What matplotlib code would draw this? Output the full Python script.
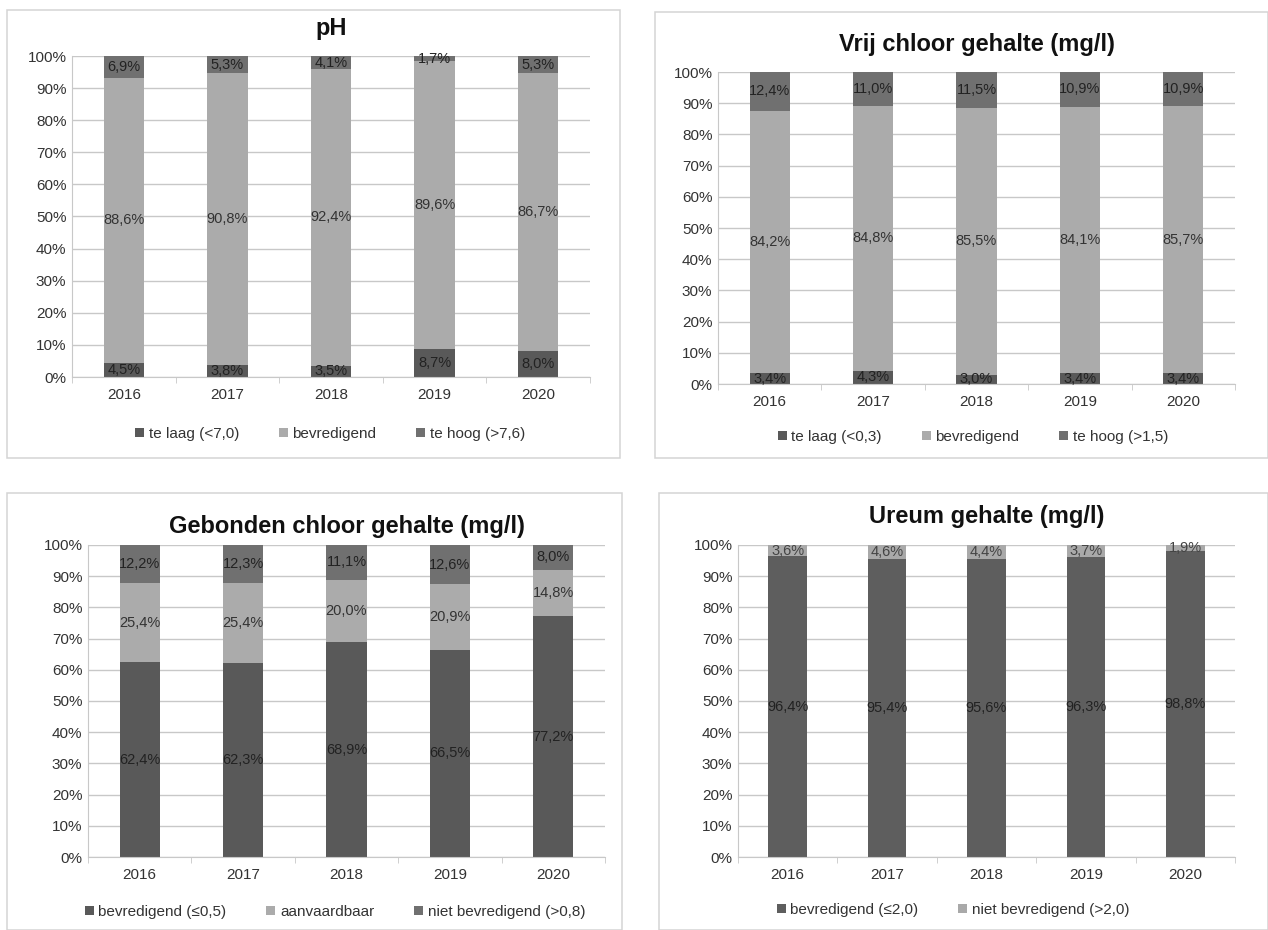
import matplotlib
matplotlib.use("Agg")
import matplotlib.pyplot as plt
import matplotlib.patches as patches
from matplotlib.ticker import MultipleLocator, FuncFormatter
import numpy as np

plt.rcParams['font.family'] = ['Liberation Sans', 'DejaVu Sans']

# jaartallen
jaren = ['2016', '2017', '2018', '2019', '2020']

# pH
ph_laag = [4.5, 3.8, 3.5, 8.7, 8.0]
ph_ok = [88.6, 90.8, 92.4, 89.6, 86.7]
ph_hoog = [6.9, 5.3, 4.1, 1.7, 5.3]

# vrij chloor
vc_laag = [3.4, 4.3, 3.0, 3.4, 3.4]
vc_ok = [84.2, 84.8, 85.5, 84.1, 85.7]
vc_hoog = [12.4, 11.0, 11.5, 10.9, 10.9]

# gebonden chloor
gc_ok = [62.4, 62.3, 68.9, 66.5, 77.2]
gc_aanv = [25.4, 25.4, 20.0, 20.9, 14.8]
gc_niet = [12.2, 12.3, 11.1, 12.6, 8.0]

# ureum
ur_ok = [96.4, 95.4, 95.6, 96.3, 98.8]
ur_niet = [3.6, 4.6, 4.4, 3.7, 1.9]

W, H = 1268, 930
fig = plt.figure(figsize=(W / 100, H / 100), dpi=100)
fig.patch.set_facecolor('white')

TXT = '#333333'
GRID = '#c8c8c8'


def px_axes(x0, y0, x1, y1):
    # pixel box (top-left origin) -> axes
    return fig.add_axes([x0 / W, 1 - y1 / H, (x1 - x0) / W, (y1 - y0) / H])


def frame(x0, y0, x1, y1):
    fig.patches.append(patches.Rectangle((x0 / W, 1 - y1 / H), (x1 - x0) / W, (y1 - y0) / H,
                                         transform=fig.transFigure, fill=False,
                                         edgecolor='#d4d4d4', linewidth=1.1))


def stapel(ax, reeksen, kleuren, namen, titel, title_y, legend_y, legend_x, label_kleuren):
    x = np.arange(len(jaren))
    # 100% gestapeld: elk jaar schalen op zijn eigen totaal
    totaal = np.sum([np.array(r) for r in reeksen], axis=0)
    onder = np.zeros(len(jaren))
    handles = []
    for vals, kleur, naam, lk in zip(reeksen, kleuren, namen, label_kleuren):
        vals = np.array(vals)
        aandeel = vals / totaal
        b = ax.bar(x, aandeel, 0.39, bottom=onder, color=kleur, label=naam, zorder=2)
        handles.append(b)
        for xi, v, a, o in zip(x, vals, aandeel, onder):
            ax.text(xi, o + a / 2, f'{v:.1f}%'.replace('.', ','), ha='center', va='center',
                    fontsize=10.5, color=lk, zorder=3)
        onder = onder + aandeel
    ax.set_xlim(-0.5, len(jaren) - 0.5)
    ax.set_ylim(0, 1)
    ax.yaxis.set_major_locator(MultipleLocator(0.1))
    ax.yaxis.set_major_formatter(FuncFormatter(lambda v, p: f'{v * 100:.0f}%'))
    ax.set_xticks(x)
    ax.set_xticklabels(jaren)
    ax.set_xticks(np.arange(-0.5, len(jaren)), minor=True)
    ax.tick_params(axis='x', which='major', length=0, pad=8, labelsize=11, labelcolor=TXT)
    ax.tick_params(axis='x', which='minor', length=4, color=GRID)
    ax.tick_params(axis='y', length=0, pad=4, labelsize=11, labelcolor=TXT)
    ax.grid(axis='y', color=GRID, linewidth=1, zorder=0)
    for s in ['top', 'right']:
        ax.spines[s].set_visible(False)
    ax.spines['left'].set_color(GRID)
    ax.spines['bottom'].set_color(GRID)
    ax.set_axisbelow(True)
    fig.text(ax.get_position().x0 + ax.get_position().width / 2, 1 - title_y / H, titel,
             ha='center', va='center', fontsize=17, fontweight='bold', color='#111111')
    fig.legend(handles=handles, loc='center', bbox_to_anchor=(legend_x / W, 1 - legend_y / H),
               ncol=len(handles), frameon=False, fontsize=11, handlelength=0.6, handleheight=0.6,
               handletextpad=0.3, columnspacing=2.6, labelcolor=TXT)


DONKER = '#595959'
LICHT = '#ababab'
MIDDEN = '#707070'

# pH
frame(7, 10, 620, 458)
ax1 = px_axes(72, 56, 590, 377)
stapel(ax1, [ph_laag, ph_ok, ph_hoog], [DONKER, LICHT, MIDDEN],
       ['te laag (<7,0)', 'bevredigend', 'te hoog (>7,6)'], 'pH', 28, 434, 330,
       ['#222222', '#333333', '#222222'])

# vrij chloor
frame(655, 12, 1268, 458)
ax2 = px_axes(718, 72, 1235, 384)
stapel(ax2, [vc_laag, vc_ok, vc_hoog], [DONKER, LICHT, MIDDEN],
       ['te laag (<0,3)', 'bevredigend', 'te hoog (>1,5)'], 'Vrij chloor gehalte (mg/l)', 45, 437, 973,
       ['#222222', '#333333', '#222222'])

# gebonden chloor
frame(7, 493, 622, 930)
ax3 = px_axes(88, 545, 605, 857)
stapel(ax3, [gc_ok, gc_aanv, gc_niet], [DONKER, LICHT, MIDDEN],
       ['bevredigend (≤0,5)', 'aanvaardbaar', 'niet bevredigend (>0,8)'],
       'Gebonden chloor gehalte (mg/l)', 527, 912, 335,
       ['#222222', '#333333', '#222222'])

# ureum
frame(659, 493, 1268, 930)
ax4 = px_axes(738, 545, 1235, 857)
stapel(ax4, [ur_ok, ur_niet], ['#5e5e5e', '#a9a9a9'],
       ['bevredigend (≤2,0)', 'niet bevredigend (>2,0)'], 'Ureum gehalte (mg/l)', 517, 910, 953,
       ['#222222', '#444444'])

fig.savefig('out.png', dpi=100, facecolor='white')
